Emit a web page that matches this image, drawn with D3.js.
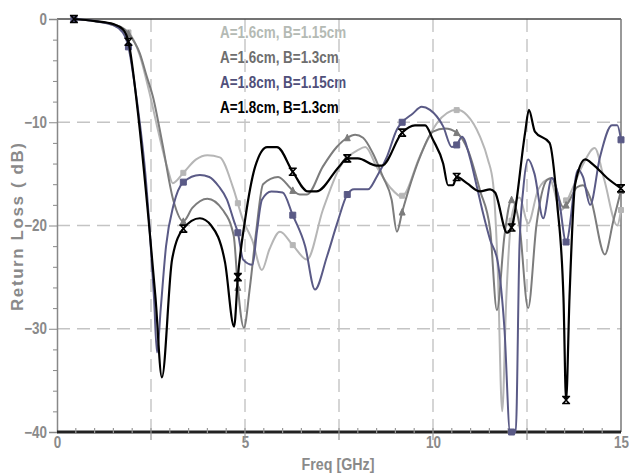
<!DOCTYPE html>
<html>
<head>
<meta charset="utf-8">
<script src="https://cdn.jsdelivr.net/npm/d3@7"></script>
<style>
  body { margin: 0; background: #fff; }
  svg text { font-family: "Liberation Sans", Arial, sans-serif; font-weight: bold; }
</style>
</head>
<body>
<svg id="chart" width="629" height="474"></svg>
<script>
// series: [freq GHz, return loss dB]
var lightGray = [[0.45,0],[1.0,-0.2],[1.5,-0.6],[1.8,-1.1],[1.9,-1.3],[2.2,-3.5],[2.45,-7],[2.7,-11],[2.95,-14.6],[3.08,-15.9],[3.36,-14.9],[3.7,-13.6],[4.0,-13.2],[4.33,-13.4],[4.68,-16.3],[4.95,-19.5],[5.19,-21.4],[5.45,-24.3],[5.65,-22.3],[5.93,-20.6],[6.27,-21.9],[6.65,-23.3],[7.07,-18.5],[7.53,-14.3],[8.0,-12.7],[8.2,-12.4],[8.5,-14.3],[8.86,-16.3],[9.17,-17.2],[9.65,-13.3],[10.1,-10.1],[10.64,-8.8],[10.9,-9.3],[11.25,-11.4],[11.46,-13.6],[11.6,-16],[11.72,-24],[11.84,-38],[11.95,-27],[12.1,-19],[12.3,-17.3],[12.53,-19.8],[12.8,-16.5],[13.1,-15.5],[13.4,-18.5],[13.7,-16.5],[14.0,-14],[14.3,-12.5],[14.55,-15.5],[14.9,-20],[15,-18.5]];
var midGray = [[0.45,0],[1.0,-0.2],[1.5,-0.5],[1.8,-1.0],[1.9,-1.4],[2.2,-3.3],[2.39,-5.6],[2.55,-7.5],[2.8,-12],[3.09,-17.5],[3.36,-19.6],[3.6,-18.3],[4.0,-17.4],[4.41,-18.5],[4.7,-21],[4.81,-26],[4.97,-29.9],[5.13,-26],[5.3,-20.5],[5.48,-16],[5.88,-15.3],[6.27,-16.6],[6.46,-17],[6.65,-17],[7.07,-14.3],[7.44,-12.4],[7.72,-11.5],[7.93,-11.2],[8.14,-11.5],[8.4,-13],[8.67,-15.3],[8.9,-17.5],[9.04,-20.6],[9.18,-18.7],[9.65,-13.4],[10.0,-10.9],[10.32,-10.6],[10.63,-11],[10.93,-12.7],[11.25,-16.6],[11.52,-20.4],[11.7,-28.2],[11.9,-21],[12.09,-17.5],[12.3,-20],[12.53,-28],[12.75,-20],[13.03,-15.6],[13.16,-15.4],[13.46,-18.2],[13.55,-18],[13.83,-16.3],[13.99,-16.1],[14.2,-17.5],[14.57,-22.8],[14.8,-19.5],[15,-16.6]];
var blue = [[0.45,0],[1.0,-0.2],[1.5,-0.6],[1.75,-1.3],[1.9,-2.7],[2.05,-6],[2.2,-10],[2.35,-15],[2.47,-20.7],[2.58,-27],[2.66,-32.3],[2.76,-28],[2.9,-22],[3.1,-18],[3.36,-15.8],[3.8,-15.1],[4.05,-15.3],[4.3,-16.2],[4.52,-17.5],[4.7,-19.5],[4.81,-20.7],[4.95,-23.3],[5.2,-23.8],[5.32,-20.5],[5.45,-17.5],[5.7,-16.7],[6.0,-16.8],[6.27,-19],[6.6,-22],[6.86,-26.2],[7.18,-23],[7.45,-19.8],[7.72,-17],[7.9,-16.5],[8.27,-16.5],[8.5,-15.3],[8.78,-13.3],[9.04,-10.7],[9.18,-10],[9.45,-9.2],[9.7,-8.5],[9.92,-8.8],[10.27,-10.4],[10.5,-12.4],[10.63,-12.2],[10.77,-11.4],[10.98,-13.4],[11.17,-16.3],[11.33,-18.8],[11.52,-21.4],[11.72,-23.5],[11.9,-30],[12.05,-40],[12.2,-40],[12.3,-22],[12.4,-16.5],[12.53,-13.6],[12.7,-15],[12.93,-19.3],[13.16,-15.4],[13.35,-17.5],[13.54,-21.6],[13.86,-14.6],[13.99,-15.3],[14.18,-18],[14.44,-13.4],[14.76,-10.3],[14.9,-10.3],[15,-11.7]];
var black = [[0.45,0],[1.0,-0.2],[1.5,-0.5],[1.75,-1.0],[1.9,-2.2],[2.15,-9],[2.45,-20],[2.62,-27],[2.79,-34.7],[3.06,-23.3],[3.36,-20.3],[3.8,-19.3],[4.1,-20],[4.47,-23.6],[4.71,-29.8],[4.81,-25],[5.0,-19.5],[5.27,-14.3],[5.59,-12.4],[5.85,-12.4],[6.27,-14.8],[6.67,-16.7],[6.9,-16.7],[7.5,-14.3],[7.72,-13.5],[8.0,-13.5],[8.5,-14.2],[8.64,-14.2],[9.18,-11],[9.52,-10.3],[9.79,-10.3],[10.0,-11.7],[10.27,-14],[10.4,-16.1],[10.53,-16.1],[10.63,-15.3],[10.9,-15.9],[11.25,-16.7],[11.52,-16.5],[11.65,-16.8],[11.97,-20.7],[12.09,-20.2],[12.45,-11],[12.55,-8.8],[12.71,-10.9],[13.1,-12],[13.3,-17.8],[13.47,-27],[13.54,-36.9],[13.63,-27],[13.78,-16],[14.05,-13.6],[14.26,-14.1],[14.63,-15.4],[15,-16.4]];

var seriesNames = ['A=1.6cm, B=1.15cm', 'A=1.6cm, B=1.3cm', 'A=1.8cm, B=1.15cm', 'A=1.8cm, B=1.3cm'];
var seriesData = [lightGray, midGray, blue, black];
var markerFreqs = [0.45, 1.9, 3.36, 4.81, 6.27, 7.72, 9.18, 10.63, 12.09, 13.54, 15.0];
var xTickLabels = [0, 5, 10, 15];
var yTickLabels = [0, -10, -20, -30, -40];
var xGrid = [2.5, 5, 7.5, 10, 12.5];
var yGrid = [-10, -20, -30];

var lineColors = ['#b6b6b6', '#7c7c7c', '#5a5a86', '#000000'];
var textColors = ['#b4bab4', '#6e6e6e', '#50507a', '#000000'];
var markerTypes = ['square', 'triangle', 'box', 'bowtie'];

var plotLeft = 57, plotRight = 621, plotTop = 19, plotBottom = 432;
var narrow = 0.84; // squeeze text horizontally, the original uses a condensed face
var svg = d3.select('#chart');

var x = d3.scaleLinear().domain([0, 15]).range([plotLeft, plotRight]);
var y = d3.scaleLinear().domain([-40, 0]).range([plotBottom, plotTop]);

function squeezed (px, py) {
  return 'translate(' + px + ',' + py + ') scale(' + narrow + ',1)';
}

// legend (drawn under the grid, like the original)
svg.append('g')
  .selectAll('text')
  .data(seriesNames)
  .enter()
  .append('text')
  .attr('transform', function (d, i) { return squeezed(220, 38 + i * 25); })
  .attr('font-size', 16)
  .attr('fill', function (d, i) { return textColors[i]; })
  .text(function (d) { return d; });

// grid
var grid = svg.append('g')
  .attr('stroke', '#c4c4c4')
  .attr('stroke-width', 1.4)
  .attr('stroke-dasharray', '13,7');

grid.selectAll('.vgrid')
  .data(xGrid)
  .enter()
  .append('line')
  .attr('class', 'vgrid')
  .attr('x1', x).attr('x2', x)
  .attr('y1', plotTop).attr('y2', plotBottom);

grid.selectAll('.hgrid')
  .data(yGrid)
  .enter()
  .append('line')
  .attr('class', 'hgrid')
  .attr('x1', plotLeft).attr('x2', plotRight)
  .attr('y1', y).attr('y2', y);

// frame
svg.append('line')
  .attr('x1', plotLeft).attr('x2', plotRight).attr('y1', plotTop).attr('y2', plotTop)
  .attr('stroke', '#444').attr('stroke-width', 1.5);
svg.append('line')
  .attr('x1', plotRight).attr('x2', plotRight).attr('y1', plotTop).attr('y2', plotBottom)
  .attr('stroke', '#777').attr('stroke-width', 1.5);

// y axis
var yAxis = svg.append('g')
  .attr('transform', 'translate(' + plotLeft + ',0)')
  .call(d3.axisLeft(y).tickValues(yTickLabels).tickSize(8).tickPadding(2).tickFormat(d3.format('d')));
yAxis.select('.domain').attr('stroke', '#888').attr('stroke-width', 1.5);
yAxis.selectAll('.tick line').attr('stroke', '#888');
yAxis.selectAll('.tick text')
  .attr('fill', '#8a8a8a')
  .attr('font-size', 16)
  .attr('font-family', null)
  .attr('transform', 'scale(' + narrow + ',1)')
  .attr('x', -10 / narrow);

svg.append('g')
  .attr('transform', 'translate(' + plotLeft + ',0)')
  .call(d3.axisLeft(y).tickValues(d3.range(-38, 0, 2).filter(function (v) { return v % 10 !== 0; })).tickSize(4).tickFormat(''))
  .call(function (g) { g.select('.domain').remove(); })
  .selectAll('.tick line').attr('stroke', '#888');

// x axis
var xAxis = svg.append('g')
  .attr('transform', 'translate(0,' + plotBottom + ')')
  .call(d3.axisBottom(x).tickValues(xTickLabels).tickSize(0).tickPadding(5).tickFormat(d3.format('d')));
xAxis.select('.domain').remove();
xAxis.selectAll('.tick text')
  .attr('fill', '#8a8a8a')
  .attr('font-size', 16)
  .attr('font-family', null)
  .attr('transform', 'scale(' + narrow + ',1)');

svg.append('line')
  .attr('x1', plotLeft).attr('x2', plotRight).attr('y1', plotBottom).attr('y2', plotBottom)
  .attr('stroke', '#222').attr('stroke-width', 3);

svg.append('g')
  .selectAll('line')
  .data(d3.range(0.5, 15, 0.5))
  .enter()
  .append('line')
  .attr('x1', x).attr('x2', x)
  .attr('y1', plotBottom - 4)
  .attr('y2', function (d) { return d % 2.5 === 0 ? plotBottom + 8 : plotBottom + 1; })
  .attr('stroke', '#999')
  .attr('stroke-width', 1.2);

// axis titles
svg.append('text')
  .attr('transform', squeezed(338, 470))
  .attr('text-anchor', 'middle')
  .attr('font-size', 17)
  .attr('fill', '#8a8a8a')
  .text('Freq [GHz]');

svg.append('text')
  .attr('transform', 'translate(23,227) rotate(-90)')
  .attr('text-anchor', 'middle')
  .attr('font-size', 17)
  .attr('fill', '#8a8a8a')
  .attr('textLength', 168)
  .attr('lengthAdjust', 'spacing')
  .text('Return Loss ( dB)');

// curves
var line = d3.line()
  .x(function (d) { return x(d[0]); })
  .y(function (d) { return y(d[1]); })
  .curve(d3.curveMonotoneX);

function valueAt (data, f) {
  var i = d3.bisector(function (d) { return d[0]; }).left(data, f);
  if (i <= 0) return data[0][1];
  if (i >= data.length) return data[data.length - 1][1];
  var a = data[i - 1], b = data[i];
  return a[1] + (b[1] - a[1]) * (f - a[0]) / (b[0] - a[0]);
}

function markerPath (type) {
  if (type === 'square') return 'M-2.5,-2.5h5v5h-5z';
  if (type === 'triangle') return 'M0,-3.5L3,3L-3,3z';
  if (type === 'box') return 'M-3,-3h6v6h-6z';
  return 'M-4,-3.5h8M-4,3.5h8M-3,-3.5L3,3.5M3,-3.5L-3,3.5';
}

seriesData.forEach(function (data, i) {
  var g = svg.append('g');
  g.append('path')
    .datum(data)
    .attr('fill', 'none')
    .attr('stroke', lineColors[i])
    .attr('stroke-width', i === 3 ? 2.2 : 2)
    .attr('stroke-linejoin', 'round')
    .attr('d', line);

  g.selectAll('.marker')
    .data(markerFreqs)
    .enter()
    .append('path')
    .attr('class', 'marker')
    .attr('transform', function (f) { return 'translate(' + x(f) + ',' + y(valueAt(data, f)) + ')'; })
    .attr('d', markerPath(markerTypes[i]))
    .attr('fill', markerTypes[i] === 'bowtie' ? 'none' : lineColors[i])
    .attr('stroke', lineColors[i])
    .attr('stroke-width', markerTypes[i] === 'bowtie' ? 1.6 : 1);
});
</script>
</body>
</html>
